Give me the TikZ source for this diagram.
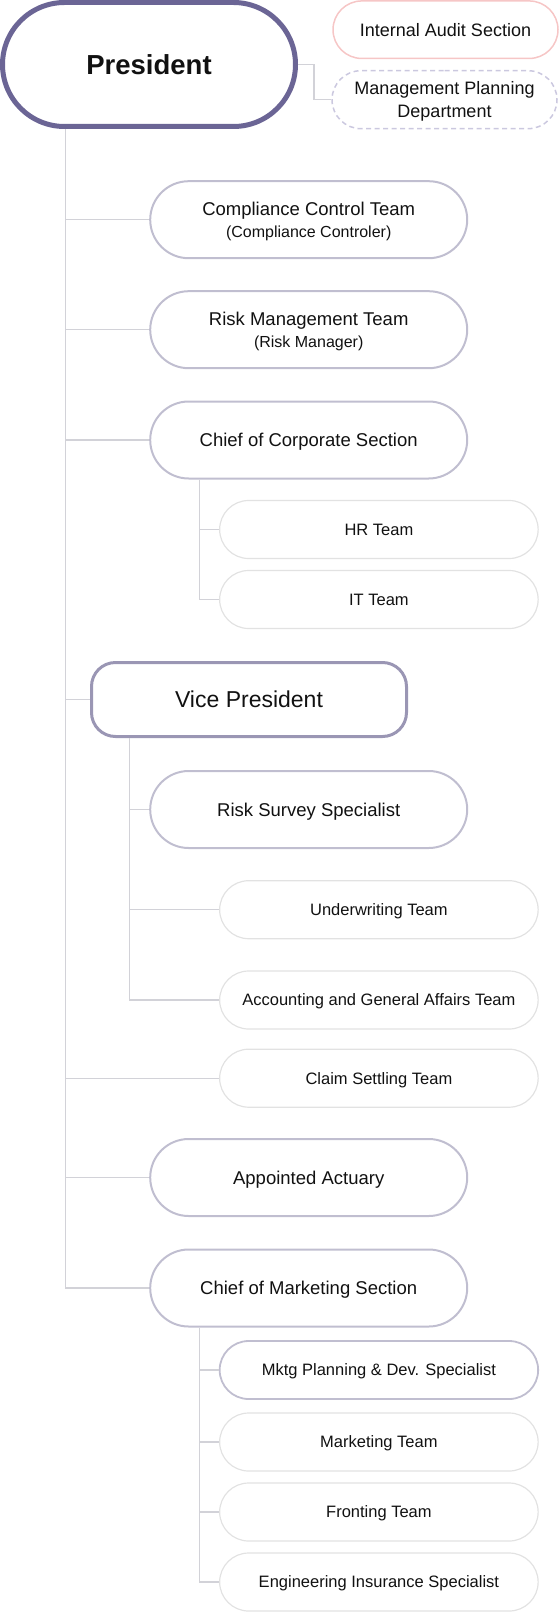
\documentclass[tikz,border=0pt]{standalone}
\usepackage{fontspec}
\setmainfont{Liberation Sans}
\usetikzlibrary{shapes.misc}

\definecolor{presline}{HTML}{6B6595}
\definecolor{vpline}{HTML}{9A96B4}
\definecolor{bigline}{HTML}{C0BED0}
\definecolor{smallline}{HTML}{E2E2E2}
\definecolor{auditline}{HTML}{F6C6C6}
\definecolor{mgmtline}{HTML}{CBC8DF}
\definecolor{linkcol}{HTML}{D2D2D8}
\definecolor{textcol}{HTML}{111111}

\begin{document}
\begin{tikzpicture}[x=1pt, y=-1pt,
    every node/.style={text=textcol, align=center},
    bigpill/.style={rounded rectangle, draw=bigline, line width=2pt, minimum width=317pt, minimum height=77pt, inner sep=0pt, font=\fontsize{18.5}{21.5}\selectfont},
    big/.style={bigpill, text height=13.3pt, text depth=0pt},
    twoline/.style={bigpill, text height=34.8pt, text depth=0pt},
    small/.style={rounded rectangle, draw=smallline, line width=1.2pt, minimum width=318.5pt, minimum height=58pt, inner sep=0pt, text height=11.9pt, text depth=0pt, font=\fontsize{16.5}{20}\selectfont},
    link/.style={draw=linkcol, line width=1.2pt}]

    % constants
    \def\bigx{308.7}
    \def\smallx{378.9}

    % page frame
    \useasboundingbox (0,0) rectangle (559,1621);

    % President and staff offices
    \node[rounded rectangle, draw=presline, line width=5pt, minimum width=293pt, minimum height=124pt, inner sep=0pt, text height=19.8pt, text depth=0pt, font=\fontsize{27.5}{30}\selectfont\bfseries] (pres) at (149,64.5) {President};
    \node[rounded rectangle, draw=auditline, line width=1.5pt, minimum width=225pt, minimum height=57.5pt, inner sep=0pt, text height=13pt, text depth=0pt, font=\fontsize{18}{22}\selectfont] (audit) at (445.5,29.7) {Internal Audit Section};
    \node[rounded rectangle, draw=mgmtline, line width=1.5pt, dash pattern=on 5pt off 3.5pt, minimum width=225pt, minimum height=58pt, inner sep=0pt, text height=36pt, text depth=0pt, font=\fontsize{18}{23}\selectfont] (mgmt) at (444.5,99.7) {Management Planning\\Department};

    % corporate side
    \node[twoline] (comp) at (\bigx,219.7) {Compliance Control Team\\{\fontsize{16}{21.5}\selectfont (Compliance Controler)}};
    \node[twoline] (risk) at (\bigx,329.7) {Risk Management Team\\{\fontsize{16}{21.5}\selectfont (Risk Manager)}};
    \node[big] (corp) at (\bigx,440) {Chief of Corporate Section};
    \node[small] (hr) at (\smallx,529.5) {HR Team};
    \node[small] (it) at (\smallx,599.5) {IT Team};

    % Vice President
    \node[rectangle, rounded corners=24pt, draw=vpline, line width=3pt, minimum width=315pt, minimum height=74pt, inner sep=0pt, text height=16.5pt, text depth=0pt, font=\fontsize{23}{26}\selectfont] (vp) at (249,699.5) {Vice President};
    \node[big] (survey) at (\bigx,809.5) {Risk Survey Specialist};
    \node[small] (uw) at (\smallx,909.7) {Underwriting Team};
    \node[small] (acct) at (\smallx,1000) {Accounting and General Affairs Team};

    % remaining units
    \node[small] (claim) at (\smallx,1078.2) {Claim Settling Team};
    \node[big] (act) at (\bigx,1177.5) {Appointed Actuary};
    \node[big] (mkt) at (\bigx,1288) {Chief of Marketing Section};
    \node[small, draw=bigline, line width=1.8pt] (mplan) at (\smallx,1370) {Mktg Planning \& Dev. Specialist};
    \node[small] (mteam) at (\smallx,1442) {Marketing Team};
    \node[small] (front) at (\smallx,1512) {Fronting Team};
    \node[small] (eng) at (\smallx,1582) {Engineering Insurance Specialist};

    % connectors
    \coordinate (spine) at (65.7,0);
    \coordinate (corpbr) at (199.3,0);
    \coordinate (vpbr) at (129.3,0);
    \coordinate (mktbr) at (199.3,0);

    \draw[link] (pres.east) -- ++(16,0) |- (mgmt.west);

    \draw[link] (spine |- pres.south) |- (mkt.west);
    \foreach \n in {comp,risk,corp,vp,claim,act}
        \draw[link] (spine |- \n) -- (\n.west);

    \draw[link] (corpbr |- corp.south) |- (it.west);
    \draw[link] (corpbr |- hr) -- (hr.west);

    \draw[link] (vpbr |- vp.south) |- (acct.west);
    \foreach \n in {survey,uw}
        \draw[link] (vpbr |- \n) -- (\n.west);

    \draw[link] (mktbr |- mkt.south) |- (eng.west);
    \foreach \n in {mplan,mteam,front}
        \draw[link] (mktbr |- \n) -- (\n.west);

\end{tikzpicture}
\end{document}
